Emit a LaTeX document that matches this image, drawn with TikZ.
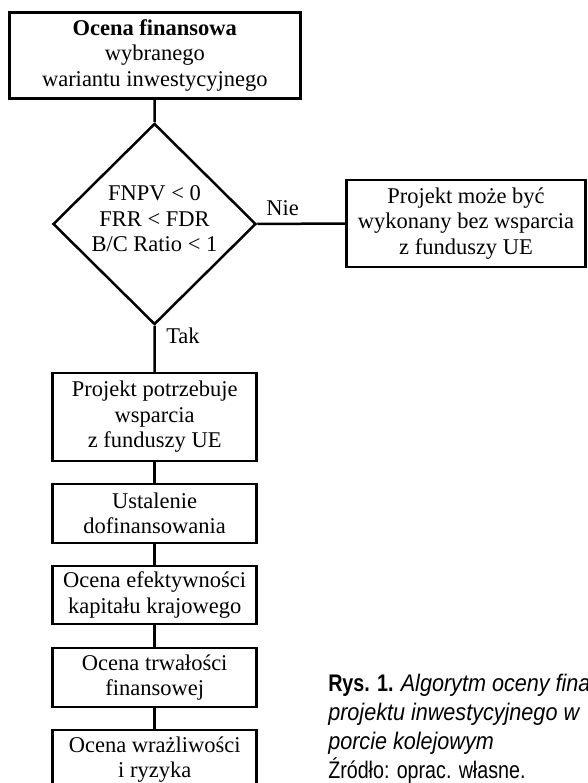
\documentclass[tikz,border=0pt]{standalone}
\usepackage{fontspec}
\setmainfont{Liberation Serif}
\newfontfamily\capfont[FakeStretch=0.82]{Liberation Sans}
\newfontfamily\capitfont[FakeStretch=0.9]{Liberation Sans}
\usetikzlibrary{shapes.geometric}
\begin{document}
\begin{tikzpicture}[x=1pt,y=-1pt,line width=2.5pt,
  boxtext/.style={font=\fontsize{22.5}{25.5}\selectfont},
  stepbox/.style={draw, rectangle, align=center, inner sep=0pt, minimum width=204pt, boxtext},
  lbl/.style={inner sep=0pt, boxtext},
  captext/.style={inner sep=0pt, anchor=base west, font=\capfont\fontsize{24}{29}\selectfont},
  capit/.style={font=\capitfont\fontsize{24}{29}\selectfont\itshape}]
\useasboundingbox (0,0) rectangle (587,783);
\clip (0,0) rectangle (587,783);
\fill[white] (0,0) rectangle (587,783);

\node[stepbox, minimum width=291pt, minimum height=86pt] (top) at (154.8,55.5)
  {\textbf{Ocena finansowa}\\wybranego\\wariantu inwestycyjnego};

\node[draw, diamond, minimum width=203pt, minimum height=201pt, inner sep=0pt] (d) at (154.5,224) {};
\node[lbl, align=center] (dtxt) at (154.5,219) {FNPV < 0\\FRR < FDR\\B/C Ratio < 1};

\node[stepbox, minimum width=239pt, minimum height=87pt] (r) at (466,223.5)
  {Projekt może być\\wykonany bez wsparcia\\z funduszy UE};

\node[stepbox, minimum height=88pt] (b1) at (154.7,417) {Projekt potrzebuje\\wsparcia\\z funduszy UE};
\node[stepbox, minimum height=59pt] (b2) at (154.7,513.5) {Ustalenie\\dofinansowania};
\node[stepbox, minimum height=58pt] (b3) at (154.7,595) {Ocena efektywności\\kapitału krajowego};
\node[stepbox, minimum height=59pt] (b4) at (154.7,677.5) {Ocena trwałości\\finansowej};
\node[stepbox, minimum height=59pt] (b5) at (154.7,759.5) {Ocena wrażliwości\\i ryzyka};

\draw (top) -- (d.north);
\draw (d.east) -- (r.west);
\draw (d.south) -- (b1);
\draw (b1) -- (b2);
\draw (b2) -- (b3);
\draw (b3) -- (b4);
\draw (b4) -- (b5);

\node[lbl, anchor=base west] (nie) at (265,216) {Nie};
\node[lbl, anchor=base west] (tak) at (165,343) {Tak};

\node[captext] (cap1) at (327,691) {\textbf{Rys. 1.} {\capitfont\fontsize{24}{29}\selectfont\itshape Algorytm oceny finan}};
\node[captext, capit] (cap2) at (327,720) {projektu inwestycyjnego w};
\node[captext, capit] (cap3) at (327,749) {porcie kolejowym};
\node[captext] (cap4) at (327,778) {Źródło: oprac. własne.};
\end{tikzpicture}
\end{document}
